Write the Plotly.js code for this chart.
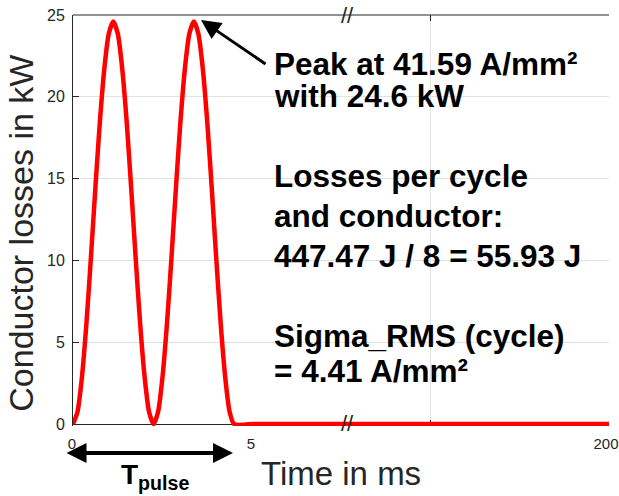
<!DOCTYPE html>
<html>
<head>
<meta charset="utf-8">
<script src="https://cdn.plot.ly/plotly-3.0.1.min.js"></script>
<style>
html,body{margin:0;padding:0;background:#ffffff;}
#chart{width:619px;height:496px;}
</style>
</head>
<body>
<div id="chart"></div>
<script>
// ---- data ----
const timePulse = [0, 0.125, 0.25, 0.375, 0.5, 0.625, 0.75, 0.875, 1, 1.125, 1.25, 1.375, 1.5, 1.625, 1.75, 1.875, 2, 2.125, 2.25,
                   2.375, 2.5, 2.625, 2.75, 2.875, 3, 3.125, 3.25, 3.375, 3.5, 3.625, 3.75, 3.875, 4, 4.125, 4.25, 4.375, 4.5, 5];
const lossPulse = [0, 0.74, 2.88, 6.15, 10.16, 14.44, 18.45, 21.72, 23.86, 24.6, 23.86, 21.72, 18.45, 14.44, 10.16, 6.15, 2.88, 0.74, 0,
                   0.74, 2.88, 6.15, 10.16, 14.44, 18.45, 21.72, 23.86, 24.6, 23.86, 21.72, 18.45, 14.44, 10.16, 6.15, 2.88, 0.74, 0, 0];
const timeRest = [5, 200];
const lossRest = [0, 0];

const yTickVals = [0, 5, 10, 15, 20, 25];
const xTickValsLeft = [0, 5];
const xTickTextLeft = ['0', '5'];
const xTickValsRight = [102.5, 200];
const xTickTextRight = ['', '200'];

const yTitle = 'Conductor losses in kW';
const xTitle = 'Time in ms';
const noteLines = [
  'Peak at 41.59 A/mm²',
  'with 24.6 kW',
  'Losses per cycle',
  'and conductor:',
  '447.47 J / 8 = 55.93 J',
  'Sigma_RMS (cycle)',
  '= 4.41 A/mm²'
];
const pulseLabel = 'T<sub>pulse</sub>';
const breakMark = '//';

// ---- styling ----
const AX = '#262626';
const GRID = '#e1e1e1';
const FONT = '"Liberation Sans", Arial, Helvetica, sans-serif';
const noteY = [0.8331, 0.7552, 0.5606, 0.4633, 0.3659, 0.1713, 0.0861];

const traces = [
  {x: timePulse, y: lossPulse, xaxis: 'x', yaxis: 'y', type: 'scatter', mode: 'lines',
   line: {color: '#ff0000', width: 4.5, shape: 'spline', smoothing: 0.6}, hoverinfo: 'skip'},
  {x: timeRest, y: lossRest, xaxis: 'x2', yaxis: 'y', type: 'scatter', mode: 'lines',
   line: {color: '#ff0000', width: 4.5}, hoverinfo: 'skip'}
];

const commonX = {
  ticks: 'inside', ticklen: 6, tickwidth: 1, tickcolor: AX,
  showline: false, mirror: 'ticks',
  showgrid: true, gridcolor: GRID, gridwidth: 1, zeroline: false,
  tickfont: {family: FONT, size: 15, color: AX},
  ticklabelstandoff: 7, ticklabeloverflow: 'allow',
  layer: 'below traces', anchor: 'y', fixedrange: true
};

const annotations = [];
noteLines.forEach((t, i) => {
  annotations.push({
    text: '<b>' + t + '</b>', xref: 'paper', yref: 'paper',
    x: 0.3713, y: noteY[i], xanchor: 'left', yanchor: 'bottom',
    showarrow: false, font: {family: FONT, size: 31.5, color: '#000000'}
  });
});
// y title
annotations.push({
  text: yTitle, xref: 'paper', yref: 'paper', x: -0.0966, y: 0.4684,
  xanchor: 'center', yanchor: 'middle', textangle: -90, showarrow: false,
  font: {family: FONT, size: 34, color: AX}
});
// x title
annotations.push({
  text: xTitle, xref: 'paper', yref: 'paper', x: 0.5, y: -0.1655,
  xanchor: 'center', yanchor: 'bottom', showarrow: false,
  font: {family: FONT, size: 33, color: AX}
});
// T pulse label
annotations.push({
  text: '<b>' + pulseLabel + '</b>', xref: 'paper', yref: 'paper', x: 0.0849, y: -0.0747,
  xanchor: 'left', yanchor: 'top', showarrow: false,
  font: {family: FONT, size: 28, color: '#000000'}
});
// T pulse double arrow
annotations.push({
  text: '', xref: 'paper', yref: 'paper', x: 0.2985, y: -0.0657,
  axref: 'pixel', ayref: 'pixel', ax: -168, ay: 0,
  showarrow: true, arrowside: 'end+start', arrowhead: 2, startarrowhead: 2,
  arrowwidth: 4, arrowsize: 1.0, startarrowsize: 1.0, arrowcolor: '#000000', standoff: 0, startstandoff: 0
});
// peak arrow
annotations.push({
  text: '', xref: 'paper', yref: 'paper', x: 0.2388, y: 0.9878,
  axref: 'pixel', ayref: 'pixel', ax: 66, ay: 45,
  showarrow: true, arrowhead: 2, arrowwidth: 3, arrowsize: 1.3, arrowcolor: '#000000', standoff: 0
});
// axis break marks
[1.0, 0.0049].forEach(yy => {
  annotations.push({
    text: breakMark, xref: 'paper', yref: 'paper', x: 0.513, y: yy,
    xanchor: 'center', yanchor: 'middle', showarrow: false,
    font: {family: FONT, size: 22, color: AX}
  });
});

const layout = {
  width: 619, height: 496,
  margin: {l: 73, r: 10, t: 15, b: 70, pad: 0},
  paper_bgcolor: '#ffffff', plot_bgcolor: '#ffffff',
  showlegend: false,
  font: {family: FONT, color: AX},
  xaxis: Object.assign({}, commonX, {domain: [0, 0.334], range: [0, 5],
    tickmode: 'array', tickvals: xTickValsLeft, ticktext: xTickTextLeft, ticklabelshift: -1}),
  xaxis2: Object.assign({}, commonX, {domain: [0.334, 1], range: [5, 200],
    tickmode: 'array', tickvals: xTickValsRight, ticktext: xTickTextRight, ticklabelshift: -3}),
  yaxis: {
    range: [-0.12, 25], tickmode: 'array', tickvals: yTickVals,
    ticks: 'inside', ticklen: 6, tickwidth: 1, tickcolor: AX,
    showline: true, linecolor: AX, linewidth: 1, mirror: false,
    showgrid: true, gridcolor: GRID, gridwidth: 1,
    zeroline: true, zerolinecolor: AX, zerolinewidth: 1,
    tickfont: {family: FONT, size: 16, color: AX},
    ticklabelstandoff: 4,
    layer: 'below traces', anchor: 'x', fixedrange: true
  },
  yaxis2: {
    range: [-0.12, 25], tickmode: 'array', tickvals: yTickVals, overlaying: 'y', side: 'right', anchor: 'x2',
    ticks: 'inside', ticklen: 6, tickwidth: 1, tickcolor: AX, showticklabels: false,
    showline: true, linecolor: AX, linewidth: 1, showgrid: false, zeroline: false,
    layer: 'below traces', fixedrange: true
  },
  shapes: [
    {type: 'line', xref: 'paper', yref: 'paper', x0: 0, x1: 1, y0: 1, y1: 1,
     line: {color: AX, width: 1}, layer: 'above'}
  ],
  annotations: annotations
};

Plotly.newPlot('chart', traces, layout, {displayModeBar: false, staticPlot: true});
</script>
</body>
</html>
